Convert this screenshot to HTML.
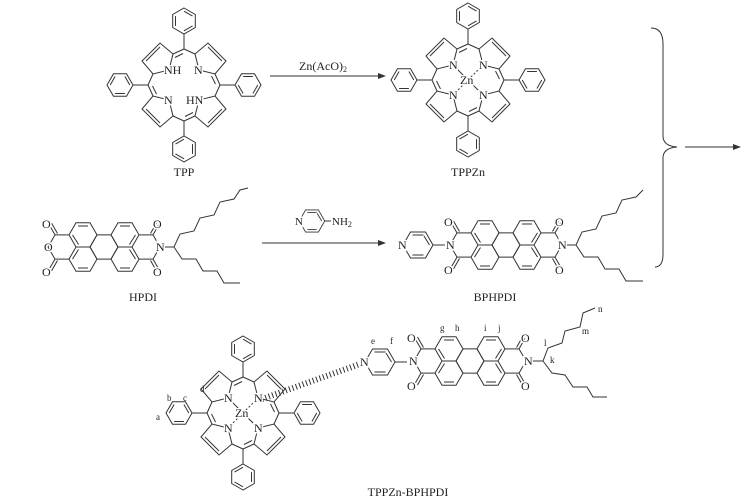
<!DOCTYPE html>
<html><head><meta charset="utf-8"><style>
html,body{margin:0;padding:0;background:#fff;}
svg{display:block;}
text{font-family:"Liberation Serif",serif;fill:#222;}
.m{stroke:#fff;stroke-width:3;paint-order:stroke;}
</style></head><body>
<svg width="752" height="503" viewBox="0 0 752 503" xmlns="http://www.w3.org/2000/svg">
<defs>
<g id="q" fill="none" stroke="#333" stroke-width="1">
  <polygon points="-15,-15 -11,-31 -24,-42 -42,-24 -31,-11"/>
  <line x1="-24" y1="-38" x2="-38" y2="-24"/>
  <line x1="-11" y1="-31" x2="0" y2="-36"/>
  <line x1="-9" y1="-27.5" x2="-1" y2="-31.5"/>
  <line x1="-31" y1="-11" x2="-36" y2="0"/>
  <line x1="0" y1="-36" x2="0" y2="-51"/>
  <polygon points="0,-77 11.3,-70.5 11.3,-57.5 0,-51 -11.3,-57.5 -11.3,-70.5"/>
  <line x1="0" y1="-73.8" x2="8.5" y2="-68.9"/>
  <line x1="8.5" y1="-59.1" x2="0" y2="-54.2"/>
  <line x1="-8.5" y1="-59.1" x2="-8.5" y2="-68.9"/>
</g>
<g id="por">
  <use href="#q"/><use href="#q" transform="rotate(90)"/><use href="#q" transform="rotate(180)"/><use href="#q" transform="rotate(270)"/>
</g>
<g id="pery" fill="none" stroke="#333" stroke-width="1">
  <polygon points="-14,-12.1 -7,-24.2 7,-24.2 14,-12.1 7,0 -7,0"/>
  <polygon points="-14,12.1 -7,24.2 7,24.2 14,12.1 7,0 -7,0"/>
  <polygon points="7,0 14,-12.1 28,-12.1 35,0 28,12.1 14,12.1"/>
  <polygon points="28,-12.1 35,-24.2 49,-24.2 56,-12.1 49,0 35,0"/>
  <polygon points="28,12.1 35,24.2 49,24.2 56,12.1 49,0 35,0"/>
  <line x1="-5" y1="-21" x2="5" y2="-21"/>
  <line x1="-10.5" y1="-12.1" x2="-4.5" y2="-2.5"/>
  <line x1="-5" y1="21" x2="5" y2="21"/>
  <line x1="37" y1="-21" x2="47" y2="-21"/>
  <line x1="37" y1="21" x2="47" y2="21"/>
  <line x1="52.5" y1="-12.1" x2="46.5" y2="-2.5"/>
  <line x1="52.5" y1="12.1" x2="46.5" y2="2.5"/>
  <line x1="-10.5" y1="12.1" x2="-4.5" y2="2.5"/>
  <line x1="-35" y1="0" x2="-28" y2="-12.1"/><line x1="-28" y1="-12.1" x2="-14" y2="-12.1"/>
  <line x1="-35" y1="0" x2="-28" y2="12.1"/><line x1="-28" y1="12.1" x2="-14" y2="12.1"/>
  <line x1="-28" y1="-12.1" x2="-34" y2="-22.5"/><line x1="-25.5" y1="-13.5" x2="-31.5" y2="-24"/>
  <line x1="-28" y1="12.1" x2="-34" y2="22.5"/><line x1="-25.5" y1="13.5" x2="-31.5" y2="24"/>
  <line x1="77" y1="0" x2="70" y2="-12.1"/><line x1="70" y1="-12.1" x2="56" y2="-12.1"/>
  <line x1="77" y1="0" x2="70" y2="12.1"/><line x1="70" y1="12.1" x2="56" y2="12.1"/>
  <line x1="70" y1="-12.1" x2="76" y2="-22.5"/><line x1="67.5" y1="-13.5" x2="73.5" y2="-24"/>
  <line x1="70" y1="12.1" x2="76" y2="22.5"/><line x1="67.5" y1="13.5" x2="73.5" y2="24"/>
</g>
<g id="pyr" fill="none" stroke="#333" stroke-width="1">
  <polygon points="-15,0 -7.5,-13 7.5,-13 15,0 7.5,13 -7.5,13"/>
  <line x1="-5.5" y1="-10" x2="5.5" y2="-10"/>
  <line x1="-5.5" y1="10" x2="5.5" y2="10"/>
  <line x1="11.5" y1="0" x2="6" y2="-9"/>
</g>
</defs>

<g stroke="#333" fill="none" stroke-width="1">
<use href="#por" transform="translate(184,85)"/>
<use href="#por" transform="translate(468,80)"/>
<line x1="468" y1="80" x2="453" y2="65"/><line x1="468" y1="80" x2="483" y2="95"/>
<line x1="468" y1="80" x2="483" y2="65" stroke-dasharray="2,2"/><line x1="468" y1="80" x2="453" y2="95" stroke-dasharray="2,2"/>
<line x1="270" y1="76" x2="380" y2="76"/>
<use href="#pery" transform="translate(83,247)"/>
<polyline points="160,247 174,247 180,234 194,231 200,218 214,215 220,202 234,199 240,190 248,188"/>
<polyline points="174,247 182,259 196,259 203,271 217,271 224,283 240,283"/>
<line x1="262" y1="243" x2="380" y2="243"/>
<use href="#pyr" transform="translate(312,221) scale(0.85)"/>
<line x1="325" y1="221" x2="331" y2="221"/>
<use href="#pyr" transform="translate(418,245)"/>
<line x1="433" y1="245" x2="445" y2="245"/>
<use href="#pery" transform="translate(485,245)"/>
<polyline points="562,245 576,245 582,232 596,229 602,216 616,213 622,200 636,197 643,190"/>
<polyline points="576,245 584,257 598,257 605,269 619,269 626,281 643,281"/>
<path d="M651,28 Q663,28 663,44 L663,136 Q663,146 677,147 Q663,148 663,158 L663,254 Q663,267 655,267"/>
<line x1="685" y1="147" x2="734" y2="147"/>
<use href="#por" transform="translate(243,413)"/>
<line x1="243" y1="413" x2="228" y2="398"/><line x1="243" y1="413" x2="258" y2="428"/>
<line x1="243" y1="413" x2="258" y2="398" stroke-dasharray="2,2"/><line x1="243" y1="413" x2="228" y2="428" stroke-dasharray="2,2"/>
<line x1="262" y1="399" x2="360" y2="364" stroke-width="6" stroke-dasharray="1,2.6"/>
<use href="#pyr" transform="translate(380,362)"/>
<line x1="395" y1="362" x2="407" y2="362"/>
<use href="#pery" transform="translate(449,361)"/>
<polyline points="528,361 543,361 548,348 562,343 565,331 580,327 583,313 595,308"/>
<polyline points="543,361 552,373 565,375 573,387 587,387 593,397 607,397"/>
</g>
<polygon points="386,76 378,73 378,79" fill="#333"/>
<polygon points="386,243 378,240 378,246" fill="#333"/>
<polygon points="741,147 733,144 733,150" fill="#333"/>

<g font-size="12">
<text class="m" x="164" y="74">NH</text>
<text class="m" x="194" y="74">N</text>
<text class="m" x="164" y="104">N</text>
<text class="m" x="186" y="104">HN</text>
<text x="184" y="176" text-anchor="middle">TPP</text>
<text x="323" y="70" text-anchor="middle">Zn(AcO)<tspan font-size="8" dy="2">2</tspan></text>
<text class="m" x="449" y="69">N</text>
<text class="m" x="479" y="69">N</text>
<text class="m" x="449" y="99">N</text>
<text class="m" x="479" y="99">N</text>
<text class="m" x="460" y="84">Zn</text>
<text x="468" y="176" text-anchor="middle">TPPZn</text>
<text class="m" x="44" y="251">O</text>
<text class="m" x="42" y="228">O</text>
<text class="m" x="42" y="276">O</text>
<text class="m" x="156" y="251">N</text>
<text class="m" x="153" y="228">O</text>
<text class="m" x="153" y="276">O</text>
<text x="143" y="301" text-anchor="middle">HPDI</text>
<text class="m" x="295" y="225" font-size="11">N</text>
<text x="332" y="225" font-size="11">NH<tspan font-size="8" dy="2">2</tspan></text>
<text class="m" x="398" y="249">N</text>
<text class="m" x="446" y="249">N</text>
<text class="m" x="444" y="226">O</text>
<text class="m" x="444" y="274">O</text>
<text class="m" x="558" y="249">N</text>
<text class="m" x="555" y="226">O</text>
<text class="m" x="555" y="274">O</text>
<text x="495" y="301" text-anchor="middle">BPHPDI</text>
<text class="m" x="224" y="402">N</text>
<text class="m" x="254" y="402">N</text>
<text class="m" x="224" y="432">N</text>
<text class="m" x="254" y="432">N</text>
<text class="m" x="235" y="417">Zn</text>
<text class="m" x="360" y="366">N</text>
<text class="m" x="409" y="365">N</text>
<text class="m" x="407" y="342">O</text>
<text class="m" x="407" y="390">O</text>
<text class="m" x="524" y="365">N</text>
<text class="m" x="521" y="342">O</text>
<text class="m" x="521" y="390">O</text>
<text x="408" y="496" text-anchor="middle">TPPZn-BPHPDI</text>
</g>
<g font-size="9">
<text x="156" y="420">a</text>
<text x="167" y="401">b</text>
<text x="183" y="401">c</text>
<text x="200" y="392">d</text>
<text x="371" y="344">e</text>
<text x="390" y="344">f</text>
<text x="440" y="331">g</text>
<text x="455" y="331">h</text>
<text x="484" y="331">i</text>
<text x="498" y="331">j</text>
<text x="544" y="346">l</text>
<text x="550" y="363">k</text>
<text x="582" y="334">m</text>
<text x="598" y="312">n</text>
</g>
</svg>
</body></html>
